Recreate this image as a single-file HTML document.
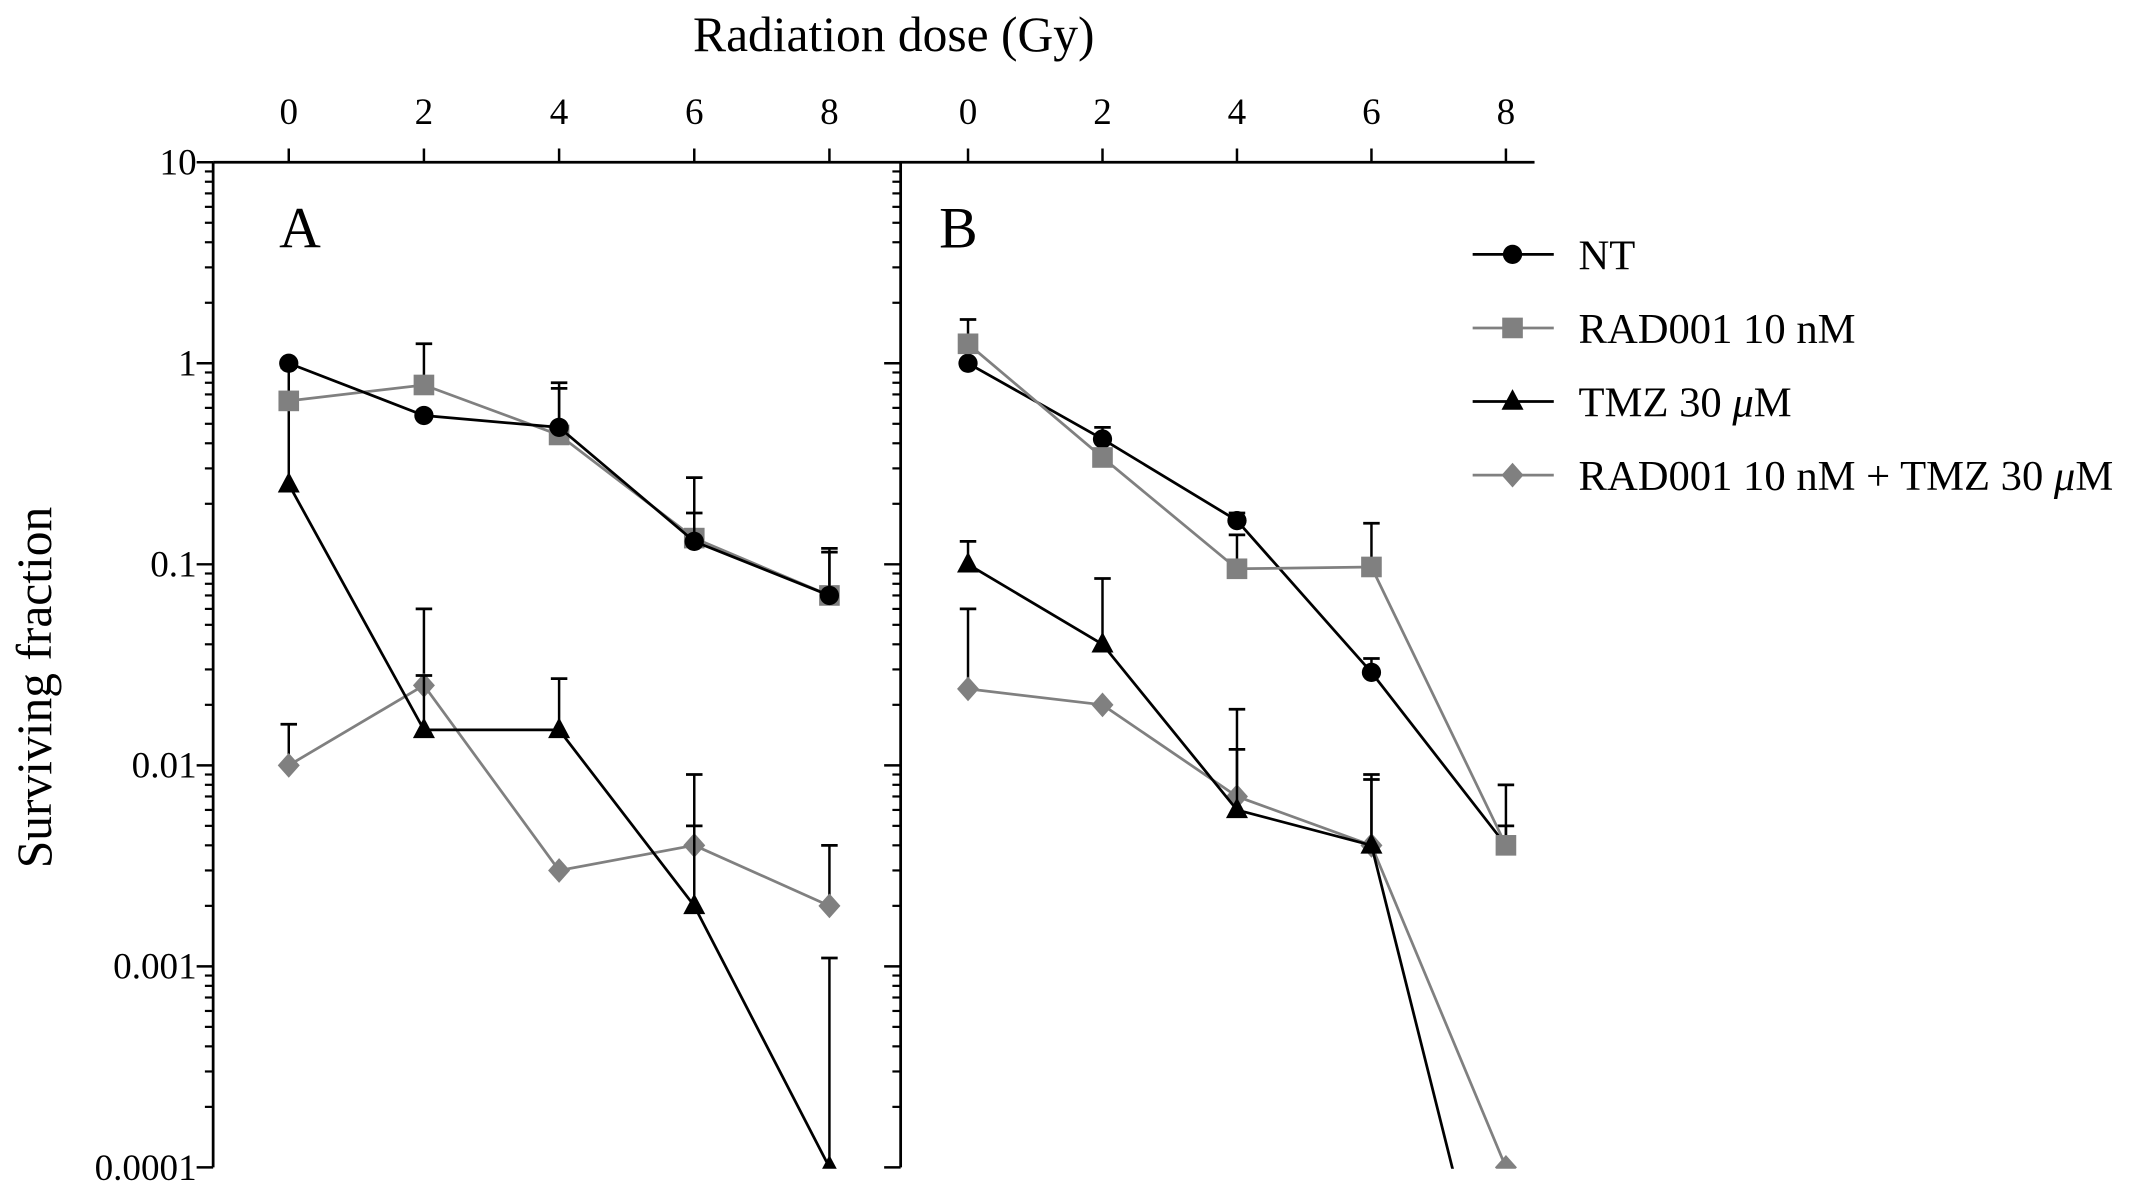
<!DOCTYPE html>
<html><head><meta charset="utf-8"><style>
html,body{margin:0;padding:0;background:#fff;overflow:hidden;width:2150px;height:1192px}
svg{display:block}
text{font-family:"Liberation Serif",serif;fill:#000}
</style></head><body>
<svg id="chart" width="2150" height="1192" viewBox="0 0 1563.6 866.9" xmlns="http://www.w3.org/2000/svg">
<defs>
<clipPath id="clipA"><rect x="155" y="110" width="500" height="740"/></clipPath>
<clipPath id="clipB"><rect x="655" y="110" width="500" height="740"/></clipPath>
</defs>
<g id="root"></g>
</svg>
<script>
const doses=[0,2,4,6,8];
const yTickLabels=["10","1","0.1","0.01","0.001","0.0001"];
const yTickValues=[10,1,0.1,0.01,0.001,0.0001];
const seriesNames=["NT","RAD001 10 nM","TMZ 30 \u03bcM","RAD001 10 nM + TMZ 30 \u03bcM"];
// Panel A values
const aNT=[1,0.55,0.48,0.13,0.07];
const aRAD=[0.65,0.78,0.44,0.135,0.07];
const aTMZ=[0.25,0.015,0.015,0.002,0.0001];
const aCOMBO=[0.01,0.025,0.003,0.004,0.002];
// Panel A error tops (null = none)
const aNTerr=[null,null,0.8,0.18,0.115];
const aRADerr=[null,1.25,0.75,0.27,0.12];
const aTMZerr=[0.95,0.028,0.027,0.005,0.0011];
const aCOMBOerr=[0.016,0.06,null,0.009,0.004];
// Panel B values
const bNT=[1,0.42,0.165,0.029,0.004];
const bRAD=[1.25,0.34,0.095,0.097,0.004];
const bTMZ=[0.1,0.04,0.006,0.004,0.0000086];
const bCOMBO=[0.024,0.02,0.007,0.004,0.0001];
const bNTerr=[null,0.48,0.18,0.034,0.005];
const bRADerr=[1.65,null,0.14,0.16,0.008];
const bTMZerr=[0.13,0.085,0.012,0.009,null];
const bCOMBOerr=[0.06,null,0.019,0.0085,null];

const NS="http://www.w3.org/2000/svg";
const root=document.getElementById('root');
const top0=118, dec=146.2;
function y(v){return top0+(1-Math.log10(v))*dec;}
function xA(d){return 210+d*49.15;}
function xB(d){return 704+d*48.9;}
function mk(tag,attrs,parent){const e=document.createElementNS(NS,tag);for(const k in attrs)e.setAttribute(k,attrs[k]);(parent||root).appendChild(e);return e;}

// top axis
let g=mk('g',{});


mk('line',{x1:155,y1:top0,x2:1116,y2:top0,stroke:'#000','stroke-width':2},g);
[xA,xB].forEach((fx,pi)=>{doses.forEach(d=>{
 mk('line',{x1:fx(d),y1:top0,x2:fx(d),y2:top0-10,stroke:'#000','stroke-width':1.8},g);
 const t=mk('text',{x:fx(d),y:90,'text-anchor':'middle','font-size':27},g);
 
 
 t.textContent=d;
});});
let tt=mk('text',{x:650,y:37,'text-anchor':'middle','font-size':36});


tt.textContent='Radiation dose (Gy)';

// y axes
[155,655].forEach((ax,pi)=>{
 const ga=mk('g',{});
 
 
 mk('line',{x1:ax,y1:top0,x2:ax,y2:y(0.0001),stroke:'#000','stroke-width':2},ga);
 for(let e=-4;e<=1;e++){
  const v=Math.pow(10,e);
  mk('line',{x1:ax-12,y1:y(v),x2:ax,y2:y(v),stroke:'#000','stroke-width':1.8},ga);
  if(e<1){for(let m=2;m<=9;m++){mk('line',{x1:ax-6,y1:y(v*m),x2:ax,y2:y(v*m),stroke:'#000','stroke-width':1.6},ga);}}
 }
 if(pi===0){yTickValues.forEach((v,i)=>{
  const t=mk('text',{x:143,y:y(v)+9,'text-anchor':'end','font-size':27},ga);
  
  
  t.textContent=yTickLabels[i];
 });}
});
let yt=mk('text',{x:0,y:0,'text-anchor':'middle','font-size':36,transform:'translate(37,500) rotate(-90)'});


yt.textContent='Surviving fraction';

let la=mk('text',{x:203,y:180,'font-size':42});


la.textContent='A';
let lb=mk('text',{x:683,y:180,'font-size':42});


lb.textContent='B';

const styles=[{c:'#000',m:'circle'},{c:'#808080',m:'square'},{c:'#000',m:'tri'},{c:'#808080',m:'diamond'}];
function marker(type,cx,cy,col,parent){
 if(type==='circle')return mk('circle',{cx:cx,cy:cy,r:7,fill:col},parent);
 if(type==='square')return mk('rect',{x:cx-7.5,y:cy-7.5,width:15,height:15,fill:col},parent);
 if(type==='tri')return mk('polygon',{points:`${cx},${cy-9} ${cx+8},${cy+6} ${cx-8},${cy+6}`,fill:col},parent);
 return mk('polygon',{points:`${cx},${cy-9} ${cx+8},${cy} ${cx},${cy+9} ${cx-8},${cy}`,fill:col},parent);
}
function drawSeries(vals,errs,fx,si,clip,name){
 const s=styles[si];
 const gs=mk('g',{'clip-path':'url(#'+clip+')'});
 
 
 errs.forEach((e,i)=>{ if(e!==null){
  const x=fx(doses[i]);
  mk('line',{x1:x,y1:y(vals[i]),x2:x,y2:y(e),stroke:'#000','stroke-width':1.8},gs);
  mk('line',{x1:x-6,y1:y(e),x2:x+6,y2:y(e),stroke:'#000','stroke-width':2},gs);
 }});
 const pts=vals.map((v,i)=>fx(doses[i])+','+y(v)).join(' ');
 mk('polyline',{points:pts,fill:'none',stroke:s.c,'stroke-width':2},gs);
 vals.forEach((v,i)=>{
  const m=marker(s.m,fx(doses[i]),y(v),s.c,gs);
  
  
 });
}
drawSeries(aCOMBO,aCOMBOerr,xA,3,'clipA','series-a-combo');
drawSeries(aTMZ,aTMZerr,xA,2,'clipA','series-a-tmz');
drawSeries(aRAD,aRADerr,xA,1,'clipA','series-a-rad001');
drawSeries(aNT,aNTerr,xA,0,'clipA','series-a-nt');
drawSeries(bCOMBO,bCOMBOerr,xB,3,'clipB','series-b-combo');
drawSeries(bTMZ,bTMZerr,xB,2,'clipB','series-b-tmz');
drawSeries(bNT,bNTerr,xB,0,'clipB','series-b-nt');
drawSeries(bRAD,bRADerr,xB,1,'clipB','series-b-rad001');

// legend
const lg=mk('g',{});


seriesNames.forEach((n,i)=>{
 const ly=185+i*53.5;
 const ge=mk('g',{},lg);
 
 
 mk('line',{x1:1071,y1:ly,x2:1130,y2:ly,stroke:styles[i].c,'stroke-width':2},ge);
 marker(styles[i].m,1100,ly,styles[i].c,ge);
 const t=mk('text',{x:1148,y:ly+11,'font-size':31},ge);
 t.innerHTML=n.replace('\u03bc','<tspan font-style="italic">\u03bc</tspan>');
});
</script>
</body></html>
